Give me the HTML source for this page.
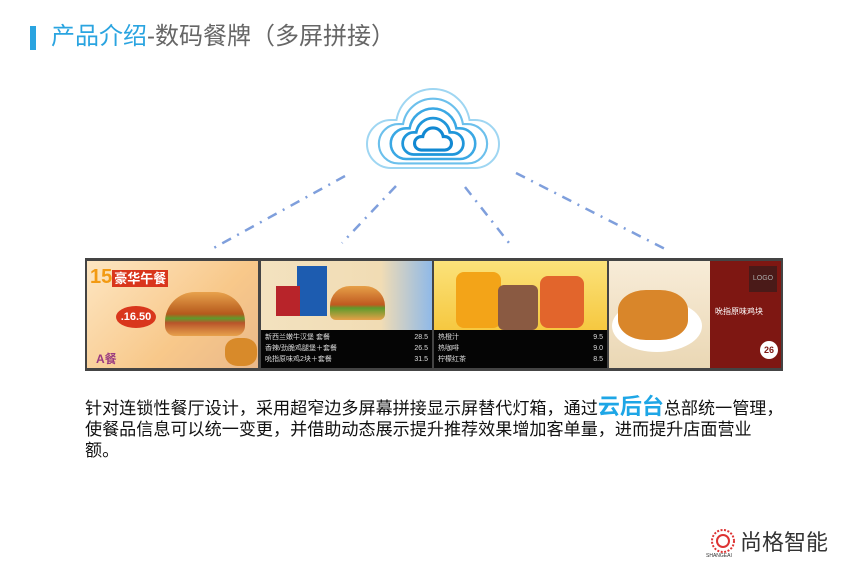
<!DOCTYPE html>
<html><head><meta charset="utf-8"><style>
body{margin:0;width:850px;height:567px;background:#fff;position:relative;overflow:hidden;font-family:"Liberation Sans","Noto Sans CJK SC",sans-serif}
.a{position:absolute}
</style></head><body>
<div class="a" style="left:30px;top:26px;width:6px;height:24px;background:#2aa4e0"></div>
<div class="a" style="left:51px;top:22px;font-size:24px;line-height:30px;white-space:nowrap;color:#666"><span style="color:#2aa4e0">产品介绍</span>-数码餐牌（多屏拼接）</div>

<svg class="a" style="left:0;top:0" width="850" height="567">
<defs><path id="c" d="M -42 33 H 42 A 24 24 0 0 0 42 -15 H 36.5 A 37 37 0 0 0 -36.5 -15 H -42 A 24 24 0 0 0 -42 33 Z" fill="none"/></defs>
<use href="#c" transform="translate(433,135)" stroke="#9fd6f2" stroke-width="2"/>
<use href="#c" transform="translate(433,136.4) scale(0.82)" stroke="#6cc0ec" stroke-width="2.6"/>
<use href="#c" transform="translate(433,137.9) scale(0.64)" stroke="#3aa8e4" stroke-width="4"/>
<use href="#c" transform="translate(433,139.3) scale(0.46)" stroke="#1f96da" stroke-width="6"/>
<use href="#c" transform="translate(433,140.8) scale(0.28)" stroke="#1188d2" stroke-width="11"/>
<g stroke="#7f9fdc" stroke-width="2.5" stroke-dasharray="10,7,2,7" fill="none">
<line x1="345" y1="176" x2="210" y2="250"/>
<line x1="396" y1="186" x2="342" y2="243"/>
<line x1="465" y1="187" x2="513" y2="248"/>
<line x1="516" y1="173" x2="669" y2="251"/>
</g>
</svg>

<!-- panels -->
<div class="a" style="left:85px;top:258px;width:698px;height:113px;background:#444"></div>
<div class="a" style="left:87px;top:261px;width:171px;height:107px;background:linear-gradient(135deg,#fde6c2,#f8c88a 60%,#e9b88a)"></div>
<div class="a" style="left:90px;top:264px;width:80px;height:26px;color:#f29a12;font-weight:bold;font-size:20px;line-height:26px">15<span style="font-size:13px;color:#fff;background:#d9361c;padding:1px 2px">豪华午餐</span></div>
<div class="a" style="left:116px;top:306px;width:40px;height:22px;border-radius:50%;background:#d9361c;color:#fff;font-size:11px;font-weight:bold;text-align:center;line-height:22px">.16.50</div>
<div class="a" style="left:165px;top:292px;width:80px;height:44px;border-radius:30px 30px 10px 10px;background:linear-gradient(#e8a24c,#b5591c 50%,#5f9a2c 60%,#b8542a 70%,#e8a24c)"></div>
<div class="a" style="left:225px;top:338px;width:32px;height:28px;border-radius:40%;background:#d88a2a"></div>
<div class="a" style="left:96px;top:350px;color:#9a3a80;font-size:12px;font-weight:bold">A餐</div>

<div class="a" style="left:261px;top:261px;width:171px;height:69px;background:linear-gradient(90deg,#f3e2bf,#f1dcb4 70%,#8fb9e8)"></div>
<div class="a" style="left:297px;top:266px;width:30px;height:50px;background:#1d5cb0"></div>
<div class="a" style="left:276px;top:286px;width:24px;height:30px;background:#b8242a"></div>
<div class="a" style="left:330px;top:286px;width:55px;height:34px;border-radius:20px 20px 6px 6px;background:linear-gradient(#e6a048,#c05a20 55%,#5f9a2c 65%,#e6a048)"></div>
<div class="a" style="left:261px;top:330px;width:171px;height:38px;background:#050505;color:#ddd;font-size:7px;line-height:11px;padding:2px 4px;box-sizing:border-box">新西兰嫩牛汉堡 套餐<span style="float:right">28.5</span><br>香辣/劲脆鸡腿堡＋套餐<span style="float:right">26.5</span><br>吮指原味鸡2块＋套餐<span style="float:right">31.5</span></div>

<div class="a" style="left:434px;top:261px;width:173px;height:69px;background:linear-gradient(#fbe27a,#f6c840)"></div>
<div class="a" style="left:456px;top:272px;width:45px;height:56px;border-radius:8px;background:#f3a418"></div>
<div class="a" style="left:498px;top:285px;width:40px;height:45px;border-radius:6px;background:#8a5a42"></div>
<div class="a" style="left:540px;top:276px;width:44px;height:52px;border-radius:8px;background:#e2652c"></div>
<div class="a" style="left:434px;top:330px;width:173px;height:38px;background:#050505;color:#ddd;font-size:7px;line-height:11px;padding:2px 4px;box-sizing:border-box">热橙汁<span style="float:right">9.5</span><br>热咖啡<span style="float:right">9.0</span><br>柠檬红茶<span style="float:right">8.5</span></div>

<div class="a" style="left:609px;top:261px;width:101px;height:107px;background:linear-gradient(#f8ecd8,#ead7b4)"></div>
<div class="a" style="left:612px;top:300px;width:90px;height:52px;border-radius:50%;background:#fff"></div>
<div class="a" style="left:618px;top:290px;width:70px;height:50px;border-radius:40%;background:#d9862a"></div>
<div class="a" style="left:710px;top:261px;width:71px;height:107px;background:#7e1712"></div>
<div class="a" style="left:749px;top:266px;width:28px;height:26px;background:#4a1a18;color:#aaa;font-size:7px;text-align:center;line-height:26px">LOGO</div>
<div class="a" style="left:715px;top:306px;color:#fff;font-size:8px;white-space:nowrap">吮指原味鸡块</div>
<div class="a" style="left:760px;top:341px;width:18px;height:18px;border-radius:50%;background:#fff;color:#7e1712;font-size:9px;font-weight:bold;text-align:center;line-height:18px">26</div>

<div class="a" style="left:85px;top:396px;width:720px;font-size:17.1px;line-height:21px;color:#111;white-space:nowrap">针对连锁性餐厅设计，采用超窄边多屏幕拼接显示屏替代灯箱，通过<span style="color:#1ea6e6;font-size:22px;font-weight:bold">云后台</span>总部统一管理，<br>使餐品信息可以统一变更，并借助动态展示提升推荐效果增加客单量，进而提升店面营业<br>额。</div>

<svg class="a" style="left:710px;top:528px" width="26" height="26"><circle cx="13" cy="13" r="11" fill="none" stroke="#d33" stroke-width="2" stroke-dasharray="2,1.5"/><circle cx="13" cy="13" r="6" fill="none" stroke="#d33" stroke-width="2"/></svg>
<div class="a" style="left:706px;top:553px;font-size:5px;color:#333">SHANGEAI</div>
<div class="a" style="left:740px;top:530px;font-size:22px;line-height:26px;color:#333;white-space:nowrap">尚格智能</div>
</body></html>
